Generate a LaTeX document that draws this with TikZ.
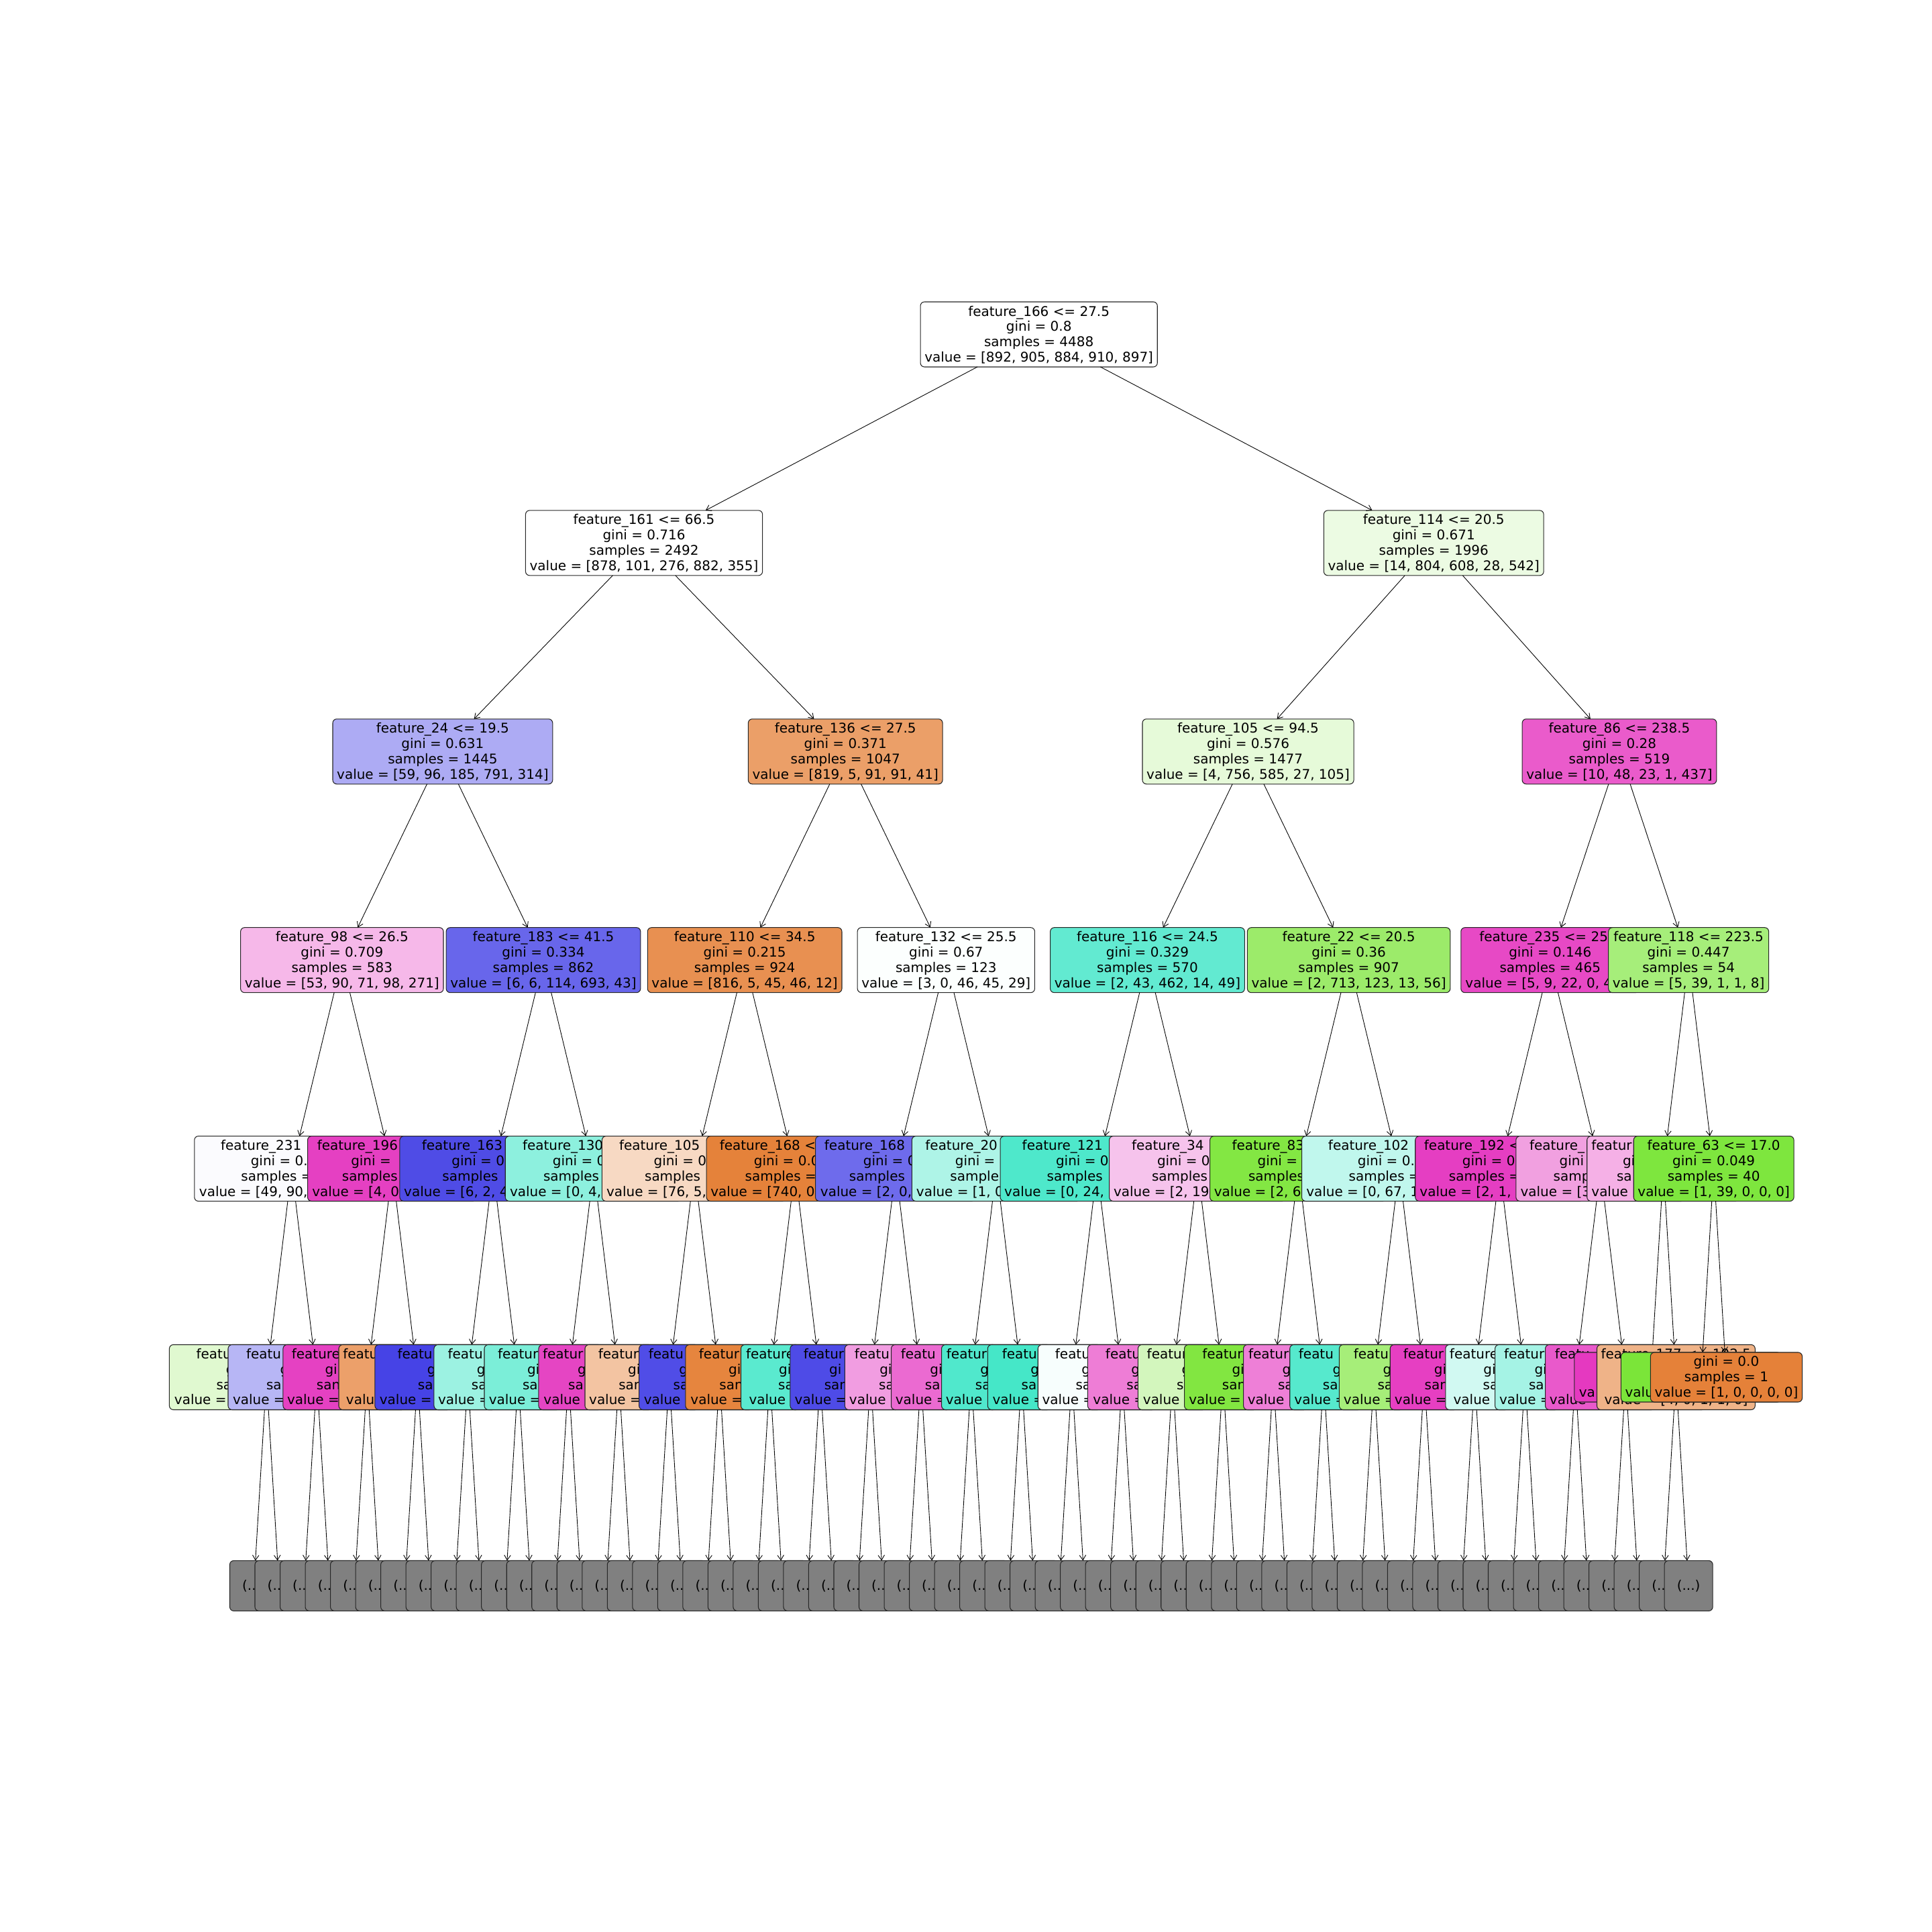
\documentclass[tikz,border=0pt]{standalone}
\usepackage{fontspec}
\newfontfamily\treefont{DejaVu Sans}
\usetikzlibrary{arrows.meta}

% visible start of a line whose full width is #1 mm
\newcommand\pl[2]{\makebox[#1mm][l]{#2}}
% one text line, set a little low in its strut
\newcommand\tline[1]{\strut\raisebox{-0.22mm}[0pt][0pt]{#1}}
% four and three line node texts
\newcommand\tx[4]{\tline{#1}\\\tline{#2}\\\tline{#3}\\\tline{#4}}
\newcommand\tz[3]{\tline{#1}\\\tline{#2}\\\tline{#3}}

\begin{document}
\begin{tikzpicture}[
                x=3.752mm, y=-31.09mm,
                box/.style = {
                    draw=black!85,
                    line width=0.3pt,
                    rounded corners=0.6mm,
                    fill=white,
                    inner xsep=0.62mm,
                    inner ysep=0pt,
                    outer sep=0pt,
                    minimum height=9.7mm,
                    align=center,
                    font=\treefont\fontsize{5.68pt}{6.49pt}\selectfont
                },
                leaf/.style = {box, minimum height=7.4mm},
                more/.style = {box, fill=black!50, minimum width=7.2mm, minimum height=7.5mm},
                tint/.style args = {#1/#2/#3}{fill={rgb,255:red,#1;green,#2;blue,#3}},
                edge/.style = {-{Straight Barb[length=2.1pt,width=2.7pt]}, line width=0.25pt}
            ]
            \useasboundingbox (-10.088,-1.6034) rectangle (66.671,7.660);
            % depth 0
            \node[box] (f166) at (31.1875,0) {\tx{feature\_166 <= 27.5}{gini = 0.8}{samples = 4488}{value = [892, 905, 884, 910, 897]}};
            % depth 1
            \node[box] (f161) at (15.5,1) {\tx{feature\_161 <= 66.5}{gini = 0.716}{samples = 2492}{value = [878, 101, 276, 882, 355]}};
            \draw[edge] (f166) -- (f161);
            \node[box, tint=236/251/227] (f114) at (46.875,1) {\tx{feature\_114 <= 20.5}{gini = 0.671}{samples = 1996}{value = [14, 804, 608, 28, 542]}};
            \draw[edge] (f166) -- (f114);
            % depth 2
            \node[box, tint=173/171/244] (f24) at (7.5,2) {\tx{feature\_24 <= 19.5}{gini = 0.631}{samples = 1445}{value = [59, 96, 185, 791, 314]}};
            \draw[edge] (f161) -- (f24);
            \node[box, tint=235/159/104] (f136) at (23.5,2) {\tx{feature\_136 <= 27.5}{gini = 0.371}{samples = 1047}{value = [819, 5, 91, 91, 41]}};
            \draw[edge] (f161) -- (f136);
            \node[box, tint=230/250/217] (f105) at (39.5,2) {\tx{feature\_105 <= 94.5}{gini = 0.576}{samples = 1477}{value = [4, 756, 585, 27, 105]}};
            \draw[edge] (f114) -- (f105);
            \node[box, tint=234/91/203] (f86) at (54.25,2) {\tx{feature\_86 <= 238.5}{gini = 0.28}{samples = 519}{value = [10, 48, 23, 1, 437]}};
            \draw[edge] (f114) -- (f86);
            % depth 3
            \node[box, tint=246/184/233] (f98) at (3.5,3) {\tx{feature\_98 <= 26.5}{gini = 0.709}{samples = 583}{value = [53, 90, 71, 98, 271]}};
            \draw[edge] (f24) -- (f98);
            \node[box, tint=104/102/235] (f183) at (11.5,3) {\tx{feature\_183 <= 41.5}{gini = 0.334}{samples = 862}{value = [6, 6, 114, 693, 43]}};
            \draw[edge] (f24) -- (f183);
            \node[box, tint=232/144/81] (f110) at (19.5,3) {\tx{feature\_110 <= 34.5}{gini = 0.215}{samples = 924}{value = [816, 5, 45, 46, 12]}};
            \draw[edge] (f136) -- (f110);
            \node[box, tint=252/255/254] (f132) at (27.5,3) {\tx{feature\_132 <= 25.5}{gini = 0.67}{samples = 123}{value = [3, 0, 46, 45, 29]}};
            \draw[edge] (f136) -- (f132);
            \node[box, tint=98/234/209] (f116) at (35.5,3) {\tx{feature\_116 <= 24.5}{gini = 0.329}{samples = 570}{value = [2, 43, 462, 14, 49]}};
            \draw[edge] (f105) -- (f116);
            \node[box, tint=156/235/106] (f22) at (43.5,3) {\tx{feature\_22 <= 20.5}{gini = 0.36}{samples = 907}{value = [2, 713, 123, 13, 56]}};
            \draw[edge] (f105) -- (f22);
            \node[box, tint=231/73/197, minimum width=26.6mm] (f235) at (51.5,3) {\tx{\pl{21.1}{feature\_235 <= 25}}{gini = 0.146}{samples = 465}{\pl{25.26}{value = [5, 9, 22, 0, 4}}};
            \draw[edge] (f86) -- (f235);
            \node[box, tint=166/238/122] (f118) at (57,3) {\tx{feature\_118 <= 223.5}{gini = 0.447}{samples = 54}{value = [5, 39, 1, 1, 8]}};
            \draw[edge] (f86) -- (f118);
            % depth 4
            \node[box, tint=251/251/254, minimum width=29mm] (f231) at (1.5,4) {\tx{\pl{21.14}{feature\_231}}{\pl{12.2}{gini = 0.}}{\pl{15.06}{samples =}}{\pl{27.56}{value = [49, 90,}}};
            \draw[edge] (f98) -- (f231);
            \node[box, tint=229/64/194, minimum width=25.26mm] (f196) at (5.5,4) {\tx{\pl{22.4}{feature\_196}}{\pl{12.32}{gini =}}{\pl{15}{samples}}{\pl{23.92}{value = [4, 0}}};
            \draw[edge] (f98) -- (f196);
            \node[box, tint=79/76/230, minimum width=27.8mm] (f163) at (9.5,4) {\tx{\pl{21.2}{feature\_163}}{\pl{12.3}{gini = 0}}{\pl{15.1}{samples}}{\pl{26.54}{value = [6, 2, 4}}};
            \draw[edge] (f183) -- (f163);
            \node[box, tint=141/240/222, minimum width=26.36mm] (f130) at (13.5,4) {\tx{\pl{21.2}{feature\_130}}{\pl{12.24}{gini = 0}}{\pl{15}{samples}}{\pl{25}{value = [0, 4,}}};
            \draw[edge] (f183) -- (f130);
            \node[box, tint=247/217/195, minimum width=27.54mm] (f105b) at (17.5,4) {\tx{\pl{22.4}{feature\_105}}{\pl{12.1}{gini = 0}}{\pl{14.8}{samples}}{\pl{26.2}{value = [76, 5,}}};
            \draw[edge] (f110) -- (f105b);
            \node[box, tint=229/130/58, minimum width=26.4mm] (f168a) at (21.5,4) {\tx{\pl{22.48}{feature\_168 <}}{\pl{12.24}{gini = 0.0}}{\pl{14.9}{samples =}}{\pl{25.16}{value = [740, 0}}};
            \draw[edge] (f110) -- (f168a);
            \node[box, tint=110/107/236, minimum width=23.94mm] (f168b) at (25.5,4) {\tx{\pl{21.26}{feature\_168}}{\pl{9.66}{gini = 0}}{\pl{13.86}{samples}}{\pl{22.46}{value = [2, 0,}}};
            \draw[edge] (f132) -- (f168b);
            \node[box, tint=174/244/231, minimum width=25.2mm] (f209) at (29.5,4) {\tx{\pl{21.18}{feature\_20}}{\pl{12.28}{gini =}}{\pl{13.78}{sample}}{\pl{23.88}{value = [1, 0}}};
            \draw[edge] (f132) -- (f209);
            \node[box, tint=78/232/203, minimum width=28.88mm] (f121) at (33.5,4) {\tx{\pl{22.34}{feature\_121}}{\pl{12.28}{gini = 0}}{\pl{14.94}{samples}}{\pl{27.64}{value = [0, 24,}}};
            \draw[edge] (f116) -- (f121);
            \node[box, tint=246/195/236, minimum width=26.38mm] (f34) at (37.5,4) {\tx{\pl{19.7}{feature\_34}}{\pl{12.1}{gini = 0}}{\pl{13.7}{samples}}{\pl{25.1}{value = [2, 19}}};
            \draw[edge] (f116) -- (f34);
            \node[box, tint=131/231/67, minimum width=26.4mm] (f83) at (41.5,4) {\tx{\pl{19.8}{feature\_83}}{\pl{12.2}{gini =}}{\pl{14.9}{samples}}{\pl{25.16}{value = [2, 6}}};
            \draw[edge] (f22) -- (f83);
            \node[box, tint=192/247/237, minimum width=29.02mm] (f102) at (45.5,4) {\tx{\pl{21.14}{feature\_102}}{\pl{12.34}{gini = 0.}}{\pl{15}{samples =}}{\pl{27.68}{value = [0, 67, 1}}};
            \draw[edge] (f22) -- (f102);
            \node[box, tint=229/62/194, minimum width=25.2mm] (f192) at (49.5,4) {\tx{\pl{22.56}{feature\_192 <}}{\pl{11.16}{gini = 0}}{\pl{15.16}{samples =}}{\pl{23.86}{value = [2, 1,}}};
            \draw[edge] (f235) -- (f192);
            \node[box, tint=241/160/224, minimum width=25.2mm] (pk1) at (53.5,4) {\tx{\pl{21.16}{feature\_}}{\pl{12.24}{gini}}{\pl{14.02}{samp}}{\pl{23.84}{value = [3}}};
            \draw[edge] (f235) -- (pk1);
            \node[box, tint=245/176/230, minimum width=22.78mm] (pk2) at (56,4) {\tx{\pl{21.44}{featur}}{\pl{12.12}{gi}}{\pl{13.92}{sa}}{\pl{21.44}{value}}};
            \draw[edge] (f118) -- (pk2);
            \node[box, tint=126/230/62] (f63) at (58,4) {\tx{feature\_63 <= 17.0}{gini = 0.049}{samples = 40}{value = [1, 39, 0, 0, 0]}};
            \draw[edge] (f118) -- (f63);
            % depth 5
            \node[box, tint=224/249/208, minimum width=28.96mm] (m0) at (0.5,5) {\tx{\pl{20.92}{featu}}{\pl{12.06}{g}}{\pl{14.94}{sa}}{\pl{27.46}{value =}}};
            \draw[edge] (f231) -- (m0);
            \node[box, tint=183/182/245, minimum width=26.46mm] (m1) at (2.5,5) {\tx{\pl{21.06}{featu}}{\pl{10.92}{g}}{\pl{15.06}{sa}}{\pl{25.06}{value =}}};
            \draw[edge] (f231) -- (m1);
            \node[box, tint=229/65/194, minimum width=25.08mm] (m2) at (4.5,5) {\tx{\pl{22.48}{feature}}{\pl{12.56}{gi}}{\pl{15.08}{san}}{\pl{23.84}{value =}}};
            \draw[edge] (f196) -- (m2);
            \node[box, tint=236/160/106, minimum width=23.48mm] (m3) at (6.5,5) {\tx{\pl{22.2}{featu}}{}{}{\pl{21.28}{valu}}};
            \draw[edge] (f196) -- (m3);
            \node[box, tint=70/67/230, minimum width=27.7mm] (m4) at (8.5,5) {\tx{\pl{20.96}{featu}}{\pl{12.1}{g}}{\pl{14.9}{sa}}{\pl{26.3}{value =}}};
            \draw[edge] (f163) -- (m4);
            \node[box, tint=156/242/226, minimum width=25.1mm] (m5) at (10.5,5) {\tx{\pl{20.96}{featu}}{\pl{12.3}{g}}{\pl{13.9}{sa}}{\pl{23.86}{value =}}};
            \draw[edge] (f163) -- (m5);
            \node[box, tint=123/238/216, minimum width=25.1mm] (m6) at (12.5,5) {\tx{\pl{21.1}{featur}}{\pl{12.3}{gi}}{\pl{13.7}{sa}}{\pl{23.74}{value =}}};
            \draw[edge] (f130) -- (m6);
            \node[box, tint=229/69/195, minimum width=23.92mm] (m7) at (14.5,5) {\tx{\pl{22.68}{featur}}{\pl{12.3}{g}}{\pl{15.06}{sa}}{\pl{22.42}{value}}};
            \draw[edge] (f130) -- (m7);
            \node[box, tint=243/196/162, minimum width=25.12mm] (m8) at (16.5,5) {\tx{\pl{21.16}{featur}}{\pl{12.3}{gi}}{\pl{15.06}{san}}{\pl{23.88}{value =}}};
            \draw[edge] (f105b) -- (m8);
            \node[box, tint=80/77/231, minimum width=24mm] (m9) at (18.5,5) {\tx{\pl{21.14}{featu}}{\pl{12.04}{g}}{\pl{13.79}{sa}}{\pl{22.54}{value}}};
            \draw[edge] (f105b) -- (m9);
            \node[box, tint=230/133/62, minimum width=25.16mm] (m10) at (20.5,5) {\tx{\pl{21.14}{featur}}{\pl{12.3}{gi}}{\pl{15.06}{san}}{\pl{23.64}{value =}}};
            \draw[edge] (f168a) -- (m10);
            \node[box, tint=90/234/207, minimum width=23.64mm] (m11) at (22.5,5) {\tx{\pl{22.14}{feature}}{\pl{12.3}{gi}}{\pl{12.52}{sa}}{\pl{21.24}{value}}};
            \draw[edge] (f168a) -- (m11);
            \node[box, tint=78/75/231, minimum width=23.96mm] (m12) at (24.5,5) {\tx{\pl{19.96}{featur}}{\pl{12.3}{gi}}{\pl{13.79}{san}}{\pl{22.6}{value =}}};
            \draw[edge] (f168b) -- (m12);
            \node[box, tint=241/157/225, minimum width=22.68mm] (m13) at (26.5,5) {\tx{\pl{19.76}{featu}}{\pl{12.3}{gi}}{\pl{12.52}{sa}}{\pl{21.36}{value}}};
            \draw[edge] (f168b) -- (m13);
            \node[box, tint=235/106/209, minimum width=23.86mm] (m14) at (28.5,5) {\tx{\pl{21}{featu}}{\pl{12.3}{gi}}{\pl{13.79}{sa}}{\pl{22.58}{value =}}};
            \draw[edge] (f209) -- (m14);
            \node[box, tint=80/232/204, minimum width=23.86mm] (m15) at (30.5,5) {\tx{\pl{22.38}{featur}}{\pl{12.3}{g}}{\pl{13.79}{sa}}{\pl{22.6}{value}}};
            \draw[edge] (f209) -- (m15);
            \node[box, tint=69/231/200, minimum width=25.12mm] (m16) at (32.5,5) {\tx{\pl{20.82}{featu}}{\pl{12.3}{g}}{\pl{15.06}{sa}}{\pl{23.68}{value =}}};
            \draw[edge] (f121) -- (m16);
            \node[box, tint=247/254/253, minimum width=25.14mm] (m17) at (34.5,5) {\tx{\pl{20}{featu}}{\pl{12.1}{g}}{\pl{13.88}{sa}}{\pl{23.88}{value =}}};
            \draw[edge] (f121) -- (m17);
            \node[box, tint=238/125/214, minimum width=25.32mm] (m18) at (36.5,5) {\tx{\pl{20}{featu}}{\pl{12.3}{g}}{\pl{13.7}{sa}}{\pl{23.7}{value =}}};
            \draw[edge] (f34) -- (m18);
            \node[box, tint=211/246/189, minimum width=25.34mm] (m19) at (38.5,5) {\tx{\pl{22.66}{featur}}{\pl{12.3}{g}}{\pl{13.79}{s}}{\pl{23.82}{value}}};
            \draw[edge] (f34) -- (m19);
            \node[box, tint=130/230/65, minimum width=26.5mm] (m20) at (40.5,5) {\tx{\pl{21.14}{featur}}{\pl{12.3}{gi}}{\pl{15.22}{san}}{\pl{25.16}{value =}}};
            \draw[edge] (f83) -- (m20);
            \node[box, tint=238/127/215, minimum width=23.9mm] (m21) at (42.5,5) {\tx{\pl{22.42}{featur}}{\pl{12.3}{g}}{\pl{13.62}{sa}}{\pl{22.66}{value}}};
            \draw[edge] (f83) -- (m21);
            \node[box, tint=86/233/205, minimum width=25.08mm] (m22) at (44.5,5) {\tx{\pl{22.44}{featu}}{\pl{12.3}{g}}{\pl{15.26}{sa}}{\pl{23.74}{value =}}};
            \draw[edge] (f102) -- (m22);
            \node[box, tint=166/238/121, minimum width=25.36mm] (m23) at (46.5,5) {\tx{\pl{21.06}{featu}}{\pl{12.3}{g}}{\pl{13.92}{sa}}{\pl{24.04}{value =}}};
            \draw[edge] (f102) -- (m23);
            \node[box, tint=230/63/194, minimum width=25.2mm] (m24) at (48.5,5) {\tx{\pl{21.26}{featur}}{\pl{12.06}{gi}}{\pl{14.92}{san}}{\pl{23.86}{value =}}};
            \draw[edge] (f192) -- (m24);
            \node[box, tint=209/249/242, minimum width=23.68mm] (m25) at (50.5,5) {\tx{\pl{22.46}{feature}}{\pl{12.36}{gi}}{\pl{12.52}{sa}}{\pl{21.32}{value}}};
            \draw[edge] (f192) -- (m25);
            \node[box, tint=165/243/229, minimum width=23.94mm] (m26) at (52.5,5) {\tx{\pl{21.26}{featur}}{\pl{12.16}{gi}}{\pl{13.86}{sa}}{\pl{22.66}{value =}}};
            \draw[edge] (pk1) -- (m26);
            \node[box, tint=233/89/203, minimum width=23.96mm] (m27) at (54.5,5) {\tx{\pl{21.1}{featu}}{}{}{\pl{22.68}{value}}};
            \draw[edge] (pk1) -- (m27);
            \node[leaf, tint=229/57/192, minimum width=22.8mm] (lm) at (55.5,5) {\tz{}{}{\pl{21.39}{va}}};
            \draw[edge] (pk2) -- (lm);
            \node[box, tint=239/179/136] (f177) at (56.5,5) {\tx{feature\_177 <= 192.5}{}{}{value = [4, 0, 1, 1, 0]}};
            \draw[edge] (pk2) -- (f177);
            \node[leaf, tint=123/229/57, minimum width=23.9mm] (lg) at (57.5,5) {\tz{}{}{\pl{22.65}{valu}}};
            \draw[edge] (f63) -- (lg);
            \node[leaf, tint=229/129/57] (lo) at (58.5,5) {\tz{gini = 0.0}{samples = 1}{value = [1, 0, 0, 0, 0]}};
            \draw[edge] (f63) -- (lo);
            % depth 6, cut off
            \foreach \k in {0,...,55}{
                \pgfmathtruncatemacro{\j}{\k/2}
                \node[more] (g\k) at (\k,6) {\tline{\pl{3.46}{(..}}};
                \draw[edge] (m\j) -- (g\k);
            }
            \node[more] (g56) at (56,6) {\tline{\pl{3.46}{(..}}};
            \draw[edge] (f177) -- (g56);
            \node[more] (g57) at (57,6) {\tline{(...)}};
            \draw[edge] (f177) -- (g57);
        \end{tikzpicture}
\end{document}
